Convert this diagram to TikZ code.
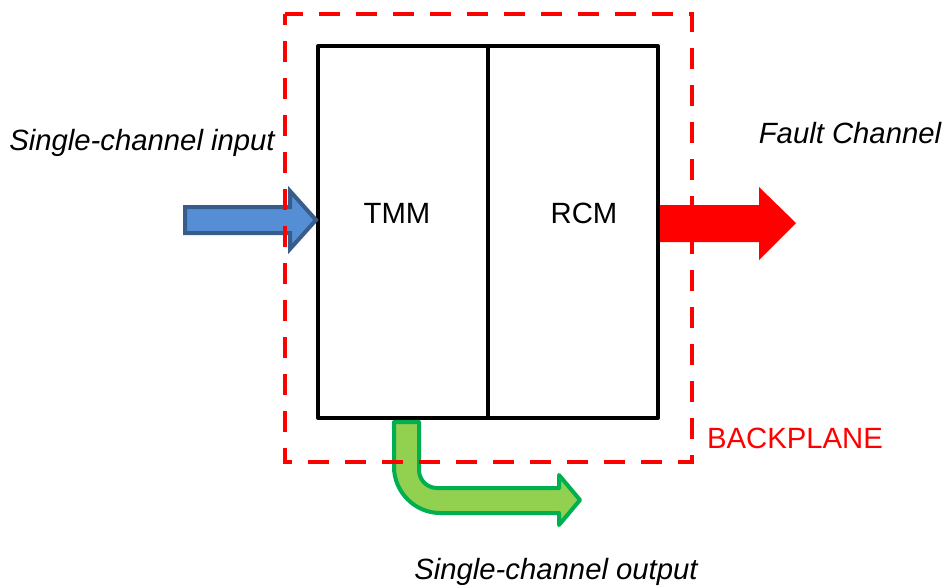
\documentclass[tikz,border=0pt]{standalone}
\usepackage{fontspec}
\setmainfont{Liberation Sans}
\usetikzlibrary{calc,positioning}
\definecolor{inblue}{RGB}{85,142,213}
\definecolor{inblueedge}{RGB}{56,93,138}
\definecolor{outgreen}{RGB}{146,208,80}
\definecolor{outgreenedge}{RGB}{0,176,80}

\begin{document}
\begin{tikzpicture}[
    x=0.03cm, y=-0.03cm,
    caption/.style={font=\fontsize{25}{30}\selectfont, inner sep=0pt},
    tag/.style={caption, font=\fontsize{25}{30}\selectfont\itshape},
    module/.style={draw=black, line width=1.2mm, line join=round, minimum width=5.1cm, minimum height=11.16cm, inner sep=0pt},
    backplane/.style={draw=red, line width=1.2mm, dash pattern=on 0.63cm off 0.48cm, dash phase=0.3cm},
    blockarrow/.style={line width=1.2mm, line join=miter},
]
\useasboundingbox (0,0) rectangle (946,587);
\node[module] (tmm) at (403,232) {};
\node[module] (rcm) at (573,232) {};
\node[caption] (tmmtext) at (397,213) {TMM};
\node[caption] (rcmtext) at (584,213) {RCM};
\draw[blockarrow, fill=inblue, draw=inblueedge]
  (185,207) -- (290,207) -- (290,191) -- (tmm.west |- 0,220) -- (290,249) -- (290,233) -- (185,233) -- cycle;
\fill[red]
  (rcm.east |- 0,205) -- (759,205) -- (759,187) -- (796,223) -- (759,260) -- (759,242) -- (rcm.east |- 0,242) -- cycle;
\draw[blockarrow, line join=round, fill=outgreen, draw=outgreenedge]
  (394,422) -- (419,422) -- (419,470) .. controls (419,480) and (427,488) .. (437,488)
  -- (559,488) -- (559,475) -- (580,500) -- (559,525) -- (559,513) -- (440,513)
  .. controls (415,513) and (394,492) .. (394,467) -- cycle;
\draw[backplane] (285,14) rectangle (692,462);
\node[tag] (input) at (142,143) {Single-channel input};
\node[tag] (fault) at (850,133) {Fault Channel};
\node[tag] (output) at (556,572) {Single-channel output};
\node[caption, text=red] (bp) at (795,438) {BACKPLANE};
\end{tikzpicture}
\end{document}
